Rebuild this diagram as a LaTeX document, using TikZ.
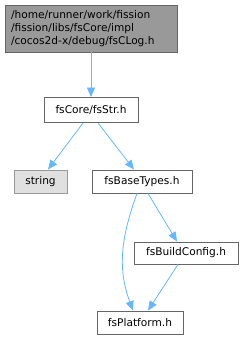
\documentclass[tikz,border=0pt]{standalone}
\usepackage{fontspec}
\setmainfont{DejaVu Sans}
\usetikzlibrary{arrows.meta}
\definecolor{edgeblue}{HTML}{63B8FF}
\definecolor{topfill}{HTML}{999999}
\definecolor{topdraw}{HTML}{666666}
\definecolor{extfill}{HTML}{E0E0E0}
\definecolor{extdraw}{HTML}{999999}
\definecolor{boxdraw}{HTML}{666666}
\begin{document}
\begin{tikzpicture}[x=1pt,y=-1pt,
  filebox/.style={draw=boxdraw,fill=white,line width=0.9pt,inner sep=0pt,font=\fontsize{10.6}{12.6}\selectfont,align=left},
  edge/.style={draw=edgeblue,line width=0.8pt,-{Triangle[length=9.5pt,width=8pt]}}]
\useasboundingbox (0,0) rectangle (243,340);
\node[filebox,fill=topfill,draw=topdraw,minimum width=172pt,minimum height=47pt,text width=160pt] (top) at (91,28.5)
  {/home/runner/work/fission\\/fission/libs/fsCore/impl\\/cocos2d-x/debug/fsCLog.h};
\node[filebox,minimum width=94pt,minimum height=25pt] (str) at (91,110) {fsCore/fsStr.h};
\node[filebox,fill=extfill,draw=extdraw,minimum width=53pt,minimum height=23pt] (string) at (40.5,181.5) {string};
\node[filebox,minimum width=100pt,minimum height=23pt] (base) at (142,181.5) {fsBaseTypes.h};
\node[filebox,minimum width=104pt,minimum height=22pt] (build) at (186,253) {fsBuildConfig.h};
\node[filebox,minimum width=86pt,minimum height=23pt] (plat) at (140,322.5) {fsPlatform.h};
\draw[edge] (top.south) -- (str.north);
\draw[edge] ([xshift=-8pt]str.south) -- ([xshift=7.5pt]string.north);
\draw[edge] ([xshift=7pt]str.south) -- ([xshift=-8pt]base.north);
\draw[edge] ([xshift=-5pt]base.south) .. controls (120,240) and (118,270) .. ([xshift=-7pt]plat.north);
\draw[edge] ([xshift=6pt]base.south) -- ([xshift=-9pt]build.north);
\draw[edge] ([xshift=-8pt]build.south) -- ([xshift=8pt]plat.north);
\end{tikzpicture}
\end{document}
